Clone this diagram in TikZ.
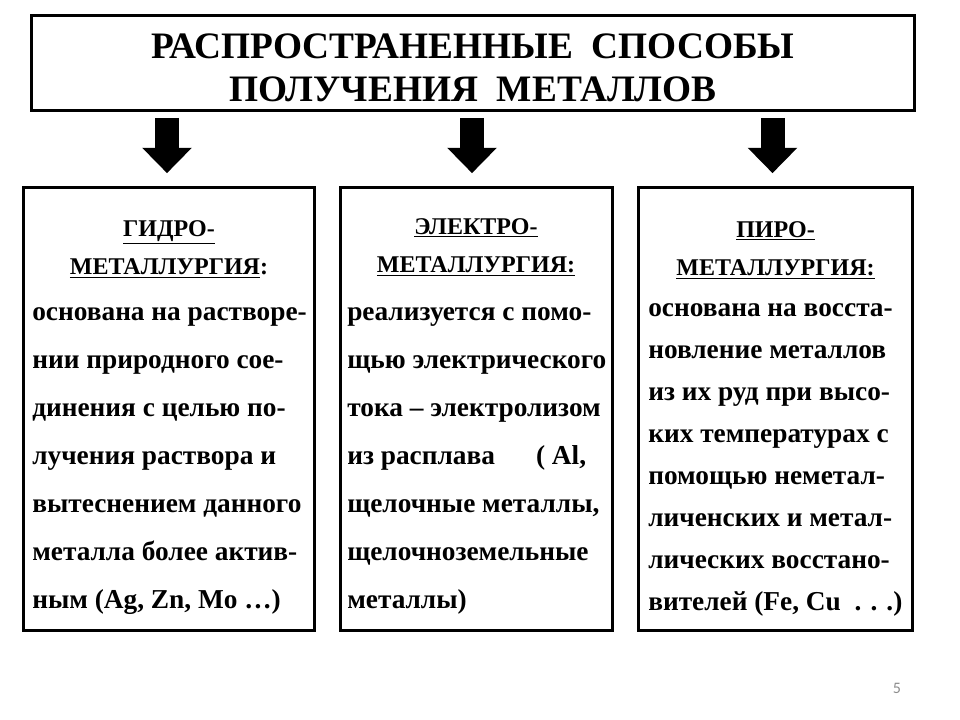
\documentclass[tikz,border=0pt]{standalone}
\usepackage{fontspec}
\setmainfont{Liberation Serif}
\newfontfamily\slidenum{Carlito}
\usetikzlibrary{arrows.meta,calc}

\tikzset{
  frame/.style={draw, line width=2.25pt, inner sep=0pt},
  head/.style={font=\bfseries\fontsize{18}{29}\selectfont, align=center, anchor=base, inner sep=0pt},
  body/.style={font=\bfseries\fontsize{20.5}{36}\selectfont, align=left, anchor=base west, inner sep=0pt},
  bigarrow/.style={line width=18pt, -{Triangle[width=36pt,length=19pt]}},
}

\begin{document}
\begin{tikzpicture}[x=0.75pt, y=-0.75pt]
    \useasboundingbox (0,0) rectangle (960,720);

    % title
    \node[frame, minimum width=662pt, minimum height=71pt] (title) at (473,63) {};
    \node[font=\bfseries\fontsize{28}{32}\selectfont, align=center, inner sep=0pt] (titletext) at (473,68)
        {РАСПРОСТРАНЕННЫЕ\ \ СПОСОБЫ\\ПОЛУЧЕНИЯ\ \ МЕТАЛЛОВ};

    % three methods
    \node[frame, minimum width=218pt, minimum height=332pt] (hyd) at (169,409) {};
    \node[frame, minimum width=204pt, minimum height=332pt] (el) at (476,409) {};
    \node[frame, minimum width=205.5pt, minimum height=332pt] (pyr) at (775.5,409) {};

    % arrows
    \draw[bigarrow] ($(title.south -| hyd.north)+(-2,6)$) -- ($(hyd.north)+(-2,-13)$);
    \draw[bigarrow] ($(title.south -| el.north)+(-4,6)$) -- ($(el.north)+(-4,-13)$);
    \draw[bigarrow] ($(title.south -| pyr.north)+(-3,6)$) -- ($(pyr.north)+(-3,-13)$);

    % headings (base = last line)
    \node[head] (hydh) at (169,275) {\underline{ГИДРО-}\\\underline{МЕТАЛЛУРГИЯ}:};
    \node[head] (elh) at (476,273) {\underline{ЭЛЕКТРО-}\\\underline{МЕТАЛЛУРГИЯ:}};
    \node[head] (pyrh) at (775.5,276) {\underline{ПИРО-}\\\underline{МЕТАЛЛУРГИЯ:}};

    % texts (base = last line)
    \node[body] (hydt) at (32,608) {основана на растворе-\\нии природного сое-\\динения с целью по-\\лучения раствора и\\вытеснением данного\\металла более актив-\\ным (Ag, Zn, Mo …)};
    \node[body] (elt) at (347,608) {реализуется с помо-\\щью электрического\\тока – электролизом\\из расплава\hspace{1.5em}( Al,\\щелочные металлы,\\щелочноземельные\\металлы)};
    \node[body, font=\bfseries\fontsize{20.5}{31.5}\selectfont] (pyrt) at (648,610) {основана на восста-\\новление металлов\\из их руд при высо-\\ких температурах с\\помощью неметал-\\личенских и метал-\\лических восстано-\\вителей (Fe, Cu\ \ . . .)};

    \node[text=black!45, font=\slidenum\fontsize{12}{14}\selectfont] (pagenum) at (897,688) {5};
\end{tikzpicture}
\end{document}
